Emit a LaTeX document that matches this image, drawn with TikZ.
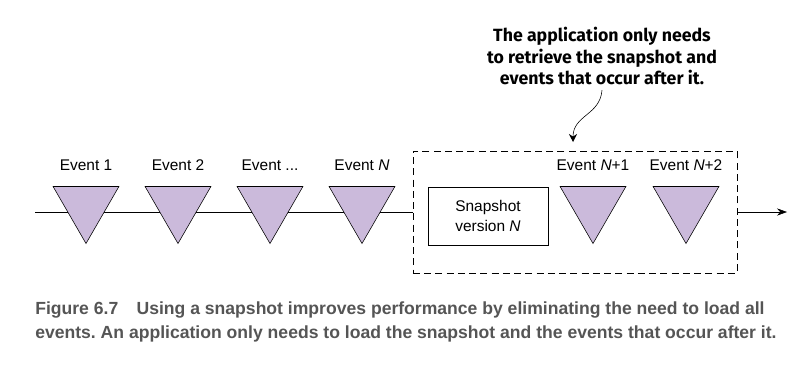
\documentclass[tikz,border=0pt]{standalone}
\usepackage{fontspec}
\setmainfont{Liberation Sans}
\newfontfamily\notefont{Fira Sans}
\usetikzlibrary{shapes.geometric,arrows.meta}
\definecolor{eventfill}{RGB}{203,186,219}
\definecolor{capgray}{RGB}{85,85,85}

\begin{document}
\frenchspacing
\begin{tikzpicture}[x=0.025cm,y=-0.025cm,
  evt/.style={regular polygon,regular polygon sides=3,shape border rotate=180,
              draw,fill=eventfill,minimum size=1.9cm,inner sep=0pt},
  evtlabel/.style={font=\fontsize{11}{13}\selectfont,inner sep=1pt},
  snapbox/.style={draw,minimum width=3.0cm,minimum height=1.45cm,align=center,
                  font=\fontsize{11}{14}\selectfont},
  window/.style={draw,dashed,dash pattern=on 5pt off 3pt,minimum width=8.1cm,
                 minimum height=3.05cm,inner sep=0pt},
  note/.style={font=\notefont\bfseries\fontsize{12.6}{15.6}\selectfont,align=center},
  caption/.style={font=\bfseries\fontsize{12.5}{17.5}\selectfont,text=capgray,align=left,
                  inner sep=0pt},
  curvearr/.style={-{Stealth[length=0.2cm,width=0.2cm]}},
  arr/.style={-{Stealth[length=0.25cm,width=0.18cm]}},
]
\useasboundingbox (0,0) rectangle (795,364);

% Snapshot window
\node[window] (window) at (575,212) {};
\node[snapbox] (snap) at (488,216) {Snapshot\\version \textit{N}};

% Timeline
\coordinate (start) at (35,212);
\coordinate (finish) at (787,212);
\draw (start) -- (window.west);
\draw[arr] (window.east) -- (finish);

% Events
\node[evt] (e1) at (86,205.5) {};
\node[evt] (e2) at (178,205.5) {};
\node[evt] (e3) at (270,205.5) {};
\node[evt] (e4) at (362,205.5) {};
\node[evt] (e5) at (593,205.5) {};
\node[evt] (e6) at (686,205.5) {};

\node[evtlabel] (l1) at (86,165) {Event 1};
\node[evtlabel] (l2) at (178,165) {Event 2};
\node[evtlabel] (l3) at (270,165) {Event ...};
\node[evtlabel] (l4) at (362,165) {Event \textit{N}};
\node[evtlabel] (l5) at (593,165) {Event \textit{N}+1};
\node[evtlabel] (l6) at (686,165) {Event \textit{N}+2};

% Annotation
\node[note] (note) at (602,56) {The application only needs\\to retrieve the snapshot and\\events that occur after it.};
\coordinate (tip) at (573,142);
\draw[curvearr] (note.south) .. controls +(-2,25) and +(0,-27) .. (tip);

% Caption
\node[caption,anchor=north west] (cap) at (35,301)
  {Figure 6.7\hspace{13pt}Using a snapshot improves performance by eliminating the need to load all\\
   events. An application only needs to load the snapshot and the events that occur after it.};

\end{tikzpicture}
\end{document}
